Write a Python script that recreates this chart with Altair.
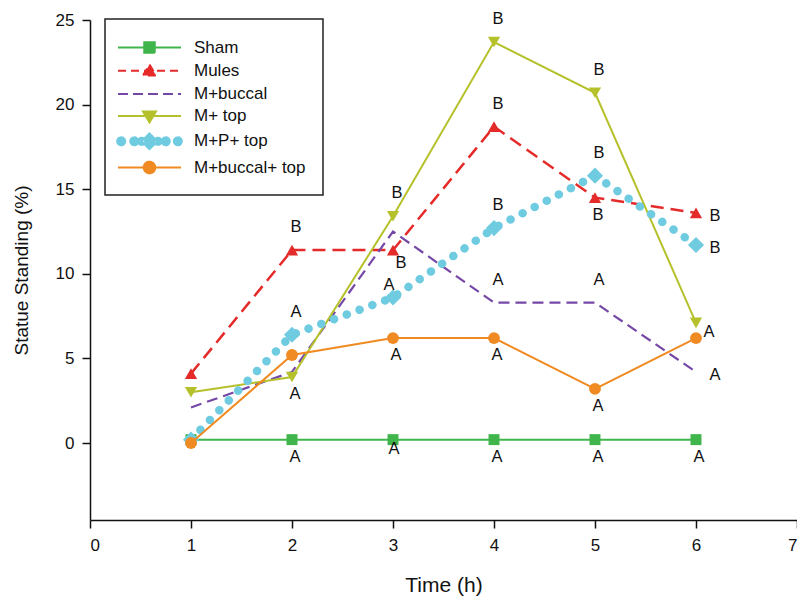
import altair as alt
import pandas as pd

# ---------------- data ----------------
times = [1, 2, 3, 4, 5, 6]
series_names = ["Sham", "Mules", "M+buccal", "M+ top", "M+P+ top", "M+buccal+ top"]
sham = [0.2, 0.2, 0.2, 0.2, 0.2, 0.2]
mules = [4.1, 11.4, 11.4, 18.7, 14.5, 13.6]
m_buccal = [2.1, 4.2, 12.5, 8.3, 8.3, 4.2]
m_top = [3.0, 3.9, 13.4, 23.7, 20.7, 7.1]
m_p_top = [0.2, 6.4, 8.6, 12.7, 15.8, 11.7]
m_buccal_top = [0.0, 5.2, 6.2, 6.2, 3.2, 6.2]
series_values = [sham, mules, m_buccal, m_top, m_p_top, m_buccal_top]

# significance letters: series, time, letter, placement
ann_series = ["Mules", "M+P+ top", "M+ top", "Sham",
              "M+ top", "Mules", "M+P+ top", "M+buccal+ top", "Sham",
              "M+ top", "Mules", "M+P+ top", "M+buccal", "M+buccal+ top", "Sham",
              "M+ top", "M+P+ top", "Mules", "M+buccal", "M+buccal+ top", "Sham",
              "Mules", "M+P+ top", "M+buccal+ top", "M+buccal", "Sham"]
ann_time = [2, 2, 2, 2,
            3, 3, 3, 3, 3,
            4, 4, 4, 4, 4, 4,
            5, 5, 5, 5, 5, 5,
            6, 6, 6, 6, 6]
ann_letter = ["B", "A", "A", "A",
              "B", "B", "A", "A", "A",
              "B", "B", "B", "A", "A", "A",
              "B", "B", "B", "A", "A", "A",
              "B", "B", "A", "A", "A"]
ann_pos = ["above", "above", "below", "below",
           "above", "belowright", "aboveleft", "below", "near",
           "above", "above", "above", "above", "below", "below",
           "above", "above", "below", "above", "below", "below",
           "right", "right", "upright", "right", "below"]

colors = ["#3fb54b", "#e52a2a", "#7648a6", "#b5c12a", "#6fcbe0", "#f08a22"]

# ---------------- tables ----------------
rows = []
for name, vals in zip(series_names, series_values):
    for t, v in zip(times, vals):
        rows.append({"series": name, "time": t, "value": v})
df = pd.DataFrame(rows)

lookup = {n: dict(zip(times, v)) for n, v in zip(series_names, series_values)}
ann_df = pd.DataFrame({
    "series": ann_series,
    "time": ann_time,
    "letter": ann_letter,
    "pos": ann_pos,
    "value": [lookup[s][t] for s, t in zip(ann_series, ann_time)],
})

FONT = "Liberation Sans"

x_enc = alt.X("time:Q", scale=alt.Scale(domain=[0, 7], nice=False, zero=False),
              axis=alt.Axis(values=[0, 1, 2, 3, 4, 5, 6, 7], format="d", title="Time (h)",
                            titlePadding=21, labelPadding=9, titleFontSize=21))
y_enc = alt.Y("value:Q", scale=alt.Scale(domain=[-4.55, 25], nice=False, zero=False),
              axis=alt.Axis(values=[0, 5, 10, 15, 20, 25], title="Statue Standing (%)",
                            titlePadding=24, labelPadding=8, titleFontSize=19))

line_styles = {
    "Sham": dict(strokeWidth=2),
    "Mules": dict(strokeWidth=2.5, strokeDash=[13, 7]),
    "M+buccal": dict(strokeWidth=2.2, strokeDash=[11, 6]),
    "M+ top": dict(strokeWidth=2),
    "M+P+ top": dict(strokeWidth=8.5, strokeDash=[0.1, 13.5], strokeCap="round"),
    "M+buccal+ top": dict(strokeWidth=2),
}
point_styles = {
    "Sham": dict(shape="square", size=120),
    "Mules": dict(shape="triangle-up", size=150),
    "M+ top": dict(shape="triangle-down", size=150),
    "M+P+ top": dict(shape="diamond", size=260),
    "M+buccal+ top": dict(shape="circle", size=140),
}

layers = []
for name, col in zip(series_names, colors):
    base = alt.Chart(df).transform_filter(alt.datum.series == name)
    layers.append(base.mark_line(color=col, **line_styles[name]).encode(x=x_enc, y=y_enc))
    if name in point_styles:
        layers.append(base.mark_point(filled=True, opacity=1, color=col,
                                      **point_styles[name]).encode(x=x_enc, y=y_enc))

offsets = {
    "above": (4, -23), "below": (3, 17), "belowright": (8, 13),
    "aboveleft": (-4, -12), "near": (1, 9), "right": (19, 3), "upright": (13, -6),
}
for p, (dx, dy) in offsets.items():
    layers.append(
        alt.Chart(ann_df).transform_filter(alt.datum.pos == p)
        .mark_text(dx=dx, dy=dy, fontSize=16.5, font=FONT, color="#111",
                   align="center", baseline="middle")
        .encode(x=x_enc, y=y_enc, text="letter:N")
    )

# legend symbols: line + marker as custom paths
def circ(cx, r):
    return f"M{cx - r},0a{r},{r} 0 1,0 {2 * r},0a{r},{r} 0 1,0 {-2 * r},0Z"

legend_paths = [
    "M-3,0H3M-0.5,-0.5H0.5V0.5H-0.5Z",
    "M-3,0H3M0,-0.6L0.62,0.45L-0.62,0.45Z",
    "M-3,0H3",
    "M-3,0H3M-0.62,-0.45L0.62,-0.45L0,0.6Z",
    circ(-2.7, 0.38) + circ(-1.45, 0.38) + circ(-0.75, 0.34) + "M0,-0.75L0.75,0L0,0.75L-0.75,0Z"
    + circ(0.8, 0.34) + circ(1.55, 0.38) + circ(2.7, 0.38),
    "M-3,0H3" + circ(0, 0.55),
]
legend_dash = [[1, 0], [8, 5], [10, 5], [1, 0], [1, 0], [1, 0]]

leg = alt.Legend(title=None)
legend_layer = alt.Chart(df).transform_filter("false").mark_point(filled=True, opacity=1).encode(
    shape=alt.Shape("series:N", scale=alt.Scale(domain=series_names, range=legend_paths), legend=leg),
    fill=alt.Fill("series:N", scale=alt.Scale(domain=series_names, range=colors), legend=leg),
    stroke=alt.Stroke("series:N", scale=alt.Scale(domain=series_names, range=colors), legend=leg),
    strokeDash=alt.StrokeDash("series:N", scale=alt.Scale(domain=series_names, range=legend_dash), legend=leg),
)
layers.append(legend_layer)

chart = alt.layer(*layers).properties(
    width=707, height=500,
    autosize=alt.AutoSizeParams(type="none"),
    padding={"left": 82, "top": 12, "right": 0, "bottom": 80},
).configure(font=FONT).configure_view(stroke=None).configure_axis(
    grid=False, domainColor="#111", domainWidth=1.5, tickColor="#111", tickWidth=1.5,
    tickSize=8, labelFontSize=17, labelColor="#111", labelFont=FONT,
    titleFontWeight="normal", titleColor="#111", titleFont=FONT,
).configure_legend(
    orient="none", legendX=15, legendY=-1, strokeColor="#222", strokeWidth=1.5,
    fillColor="white", padding=17, rowPadding=2.2, labelFontSize=17, labelFont=FONT,
    labelColor="#111", labelLimit=300, symbolSize=441, symbolOffset=16, labelOffset=33,
    symbolStrokeWidth=2, symbolOpacity=1,
)

chart.save("out.html", embed_options={"renderer": "svg", "actions": False})
